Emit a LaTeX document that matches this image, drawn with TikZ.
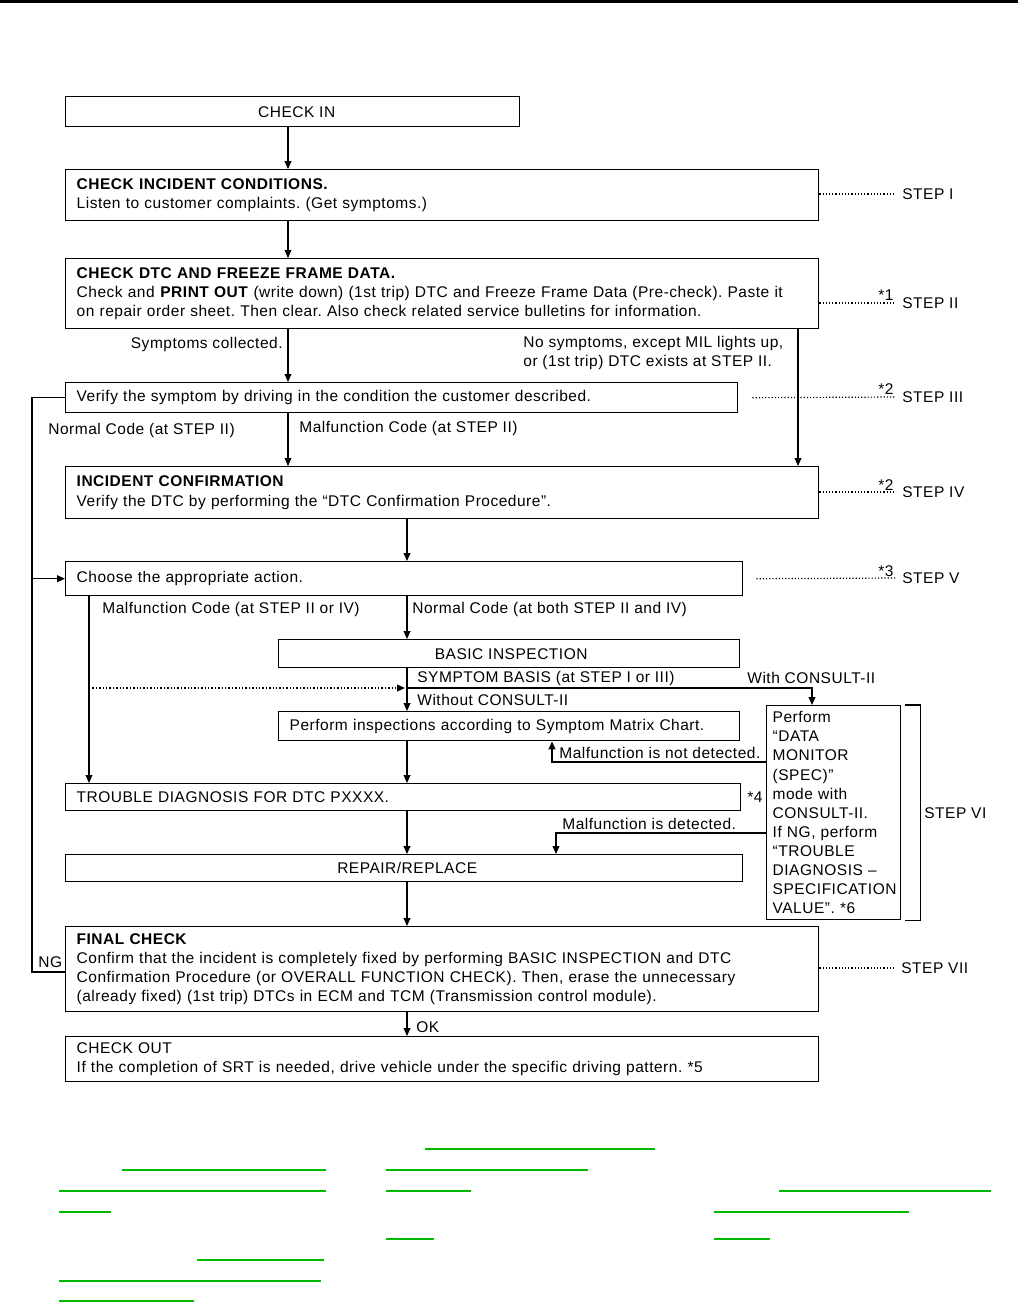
\documentclass[tikz,border=0pt]{standalone}
\usepackage{fontspec}
\setmainfont{Liberation Sans}[LetterSpace=3.3]
\usetikzlibrary{arrows.meta}
\definecolor{linkgreen}{RGB}{0,187,0}
\frenchspacing

\begin{document}
\begin{tikzpicture}[x=0.5pt, y=-0.5pt, >={Triangle[length=4pt,width=3.4pt]},
  every node/.style={font=\fontsize{7.75}{9.55}\selectfont},
  box/.style={draw, line width=0.7pt, anchor=north west, inner xsep=5.5pt, inner ysep=0pt, align=left},
  cbox/.style={box, align=center},
  lbl/.style={anchor=west, inner sep=0pt},
  steplbl/.style={anchor=west, inner xsep=3.5pt, inner ysep=0pt},
  flow/.style={line width=0.7pt, ->},
  leader/.style={densely dotted, line width=0.6pt}]
\useasboundingbox (0,0) rectangle (1018,1303);
\fill (0,0) rectangle (1018,3);

% boxes
\node[cbox, minimum width=227pt, minimum height=15pt] (checkin) at (65,96) {\hspace*{4pt}CHECK IN};
\node[box, text width=365.5pt, minimum height=25.5pt] (condI) at (65,169)
  {\textbf{CHECK INCIDENT CONDITIONS.}\\Listen to customer complaints. (Get symptoms.)};
\node[box, text width=365.5pt, minimum height=35pt] (dtcII) at (65,258)
  {\textbf{CHECK DTC AND FREEZE FRAME DATA.}\\Check and \textbf{PRINT OUT} (write down) (1st trip) DTC and Freeze Frame Data (Pre-check). Paste it\\on repair order sheet. Then clear. Also check related service bulletins for information.};
\node[box, text width=325pt, minimum height=15pt] (verifyIII) at (65,382)
  {Verify the symptom by driving in the condition the customer described.};
\node[box, text width=365.5pt, minimum height=26pt] (confirmIV) at (65,466)
  {\textbf{INCIDENT CONFIRMATION}\\Verify the DTC by performing the “DTC Confirmation Procedure”.};
\node[box, text width=327.5pt, minimum height=17pt] (chooseV) at (65,561) {Choose the appropriate action.};
\node[cbox, minimum width=230.5pt, minimum height=14pt] (basic) at (278,639) {\hspace*{2pt}BASIC INSPECTION};
\node[box, text width=219.5pt, minimum height=14.5pt] (perform) at (278,711)
  {Perform inspections according to Symptom Matrix Chart.};
\node[box, text width=326.5pt, minimum height=13.5pt] (trouble) at (65,783) {TROUBLE DIAGNOSIS FOR DTC PXXXX.};
\node[cbox, minimum width=338.5pt, minimum height=13.5pt] (repair) at (65,854) {\hspace*{3pt}REPAIR/REPLACE};
\node[box, inner xsep=3pt, text width=61pt, minimum height=107pt] (consult) at (766,705)
  {Perform\\“DATA\\MONITOR\\(SPEC)”\\mode with\\CONSULT-II.\\If NG, perform\\“TROUBLE\\DIAGNOSIS –\\SPECIFICATION\\VALUE”. *6};
\node[box, text width=365.5pt, minimum height=42.5pt] (final) at (65,926)
  {\textbf{FINAL CHECK}\\Confirm that the incident is completely fixed by performing BASIC INSPECTION and DTC\\Confirmation Procedure (or OVERALL FUNCTION CHECK). Then, erase the unnecessary\\(already fixed) (1st trip) DTCs in ECM and TCM (Transmission control module).};
\node[box, text width=365.5pt, minimum height=22.5pt] (checkout) at (65,1036)
  {CHECK OUT\\If the completion of SRT is needed, drive vehicle under the specific driving pattern. *5};

% flow
\draw[flow] (checkin.south -| 288,0) -- (condI.north -| 288,0);
\draw[flow] (condI.south -| 288,0) -- (dtcII.north -| 288,0);
\draw[flow] (dtcII.south -| 288,0) -- (verifyIII.north -| 288,0);
\node[lbl, anchor=east] (symcol) at (283,344) {Symptoms collected.};
\draw[flow] (dtcII.south -| 798,0) -- (confirmIV.north -| 798,0);
\node[lbl, align=left] (nosym) at (523,353) {No symptoms, except MIL lights up,\\or (1st trip) DTC exists at STEP II.};
\draw[flow] (verifyIII.south -| 288,0) -- (confirmIV.north -| 288,0);
\node[lbl] (malII) at (299,428) {Malfunction Code (at STEP II)};
\node[lbl] (normII) at (48,430) {Normal Code (at STEP II)};
\draw[line width=0.7pt] (verifyIII.west) -| (32,972) -- (final.west |- 0,972);
\draw[flow] (chooseV.west -| 32,0) -- (chooseV.west);
\node[lbl] (ng) at (38,962) {NG};
\draw[flow] (confirmIV.south -| 407,0) -- (chooseV.north -| 407,0);
\draw[flow] (chooseV.south -| 89,0) -- (trouble.north -| 89,0);
\node[lbl] (malIV) at (102,609) {Malfunction Code (at STEP II or IV)};
\draw[flow] (chooseV.south -| 407,0) -- (basic.north -| 407,0);
\node[lbl] (normIV) at (412,609) {Normal Code (at both STEP II and IV)};
\draw[flow] (basic.south -| 407,0) -- (perform.north -| 407,0);
\coordinate (symjoin) at (407,688);
\node[lbl] (symbasis) at (417,678) {SYMPTOM BASIS (at STEP I or III)};
\node[lbl] (without) at (417,700) {Without CONSULT-II};
\draw[flow, densely dotted] (symjoin -| 89,0) -- ([xshift=-1pt]symjoin);
\draw[flow] (symjoin) -| (consult.north -| 812,0);
\node[lbl] (withc) at (747,678) {With CONSULT-II};
\draw[flow] (perform.south -| 407,0) -- (trouble.north -| 407,0);
\draw[flow] (consult.west |- 0,762) -| (perform.south -| 552,0);
\node[lbl] (notdet) at (559,753) {Malfunction is not detected.};
\draw[flow] (consult.west |- 0,833) -| (repair.north -| 556,0);
\node[lbl] (det) at (562,824) {Malfunction is detected.};
\draw[flow] (trouble.south -| 407,0) -- (repair.north -| 407,0);
\node[lbl] (note4) at (747,797) {*4};
\draw[flow] (repair.south -| 407,0) -- (final.north -| 407,0);
\draw[flow] (final.south -| 407,0) -- (checkout.north -| 407,0);
\node[lbl] (ok) at (416,1027) {OK};

% steps
\node[steplbl] (stepI) at (895,194) {STEP I};
\draw[leader] (condI.east |- stepI) -- (stepI.west);
\node[steplbl] (stepII) at (895,303) {STEP II};
\draw[leader] (dtcII.east |- stepII) -- (stepII.west);
\node[lbl] (note1) at (878,295) {*1};
\node[steplbl] (stepIII) at (895,397) {STEP III};
\draw[leader] ([xshift=7pt]verifyIII.east) -- (stepIII.west);
\node[lbl] (note2a) at (878,389) {*2};
\node[steplbl] (stepIV) at (895,492) {STEP IV};
\draw[leader] (confirmIV.east |- stepIV) -- (stepIV.west);
\node[lbl] (note2b) at (878,485) {*2};
\node[steplbl] (stepV) at (895,578) {STEP V};
\draw[leader] ([xshift=6.5pt]chooseV.east) -- (stepV.west);
\node[lbl] (note3) at (878,571) {*3};
\draw[line width=0.7pt] ([xshift=2pt]consult.north east) -- ++(15,0) |- ([xshift=2pt]consult.south east);
\node[lbl] (stepVI) at (924,813) {STEP VI};
\node[steplbl] (stepVII) at (894,968) {STEP VII};
\draw[leader] (final.east |- stepVII) -- (stepVII.west);

% link underlines
\foreach \xa/\xb/\ya in {425/655/1149, 122/326/1170, 386/588/1170, 59/326/1191, 386/471/1191,
    779/991/1191, 59/111/1212, 714/909/1212, 386/434/1239, 714/770/1239, 197/324/1260,
    59/321/1281, 59/194/1301}
  \draw[linkgreen, line width=0.75pt] (\xa,\ya) -- (\xb,\ya);
\end{tikzpicture}
\end{document}
